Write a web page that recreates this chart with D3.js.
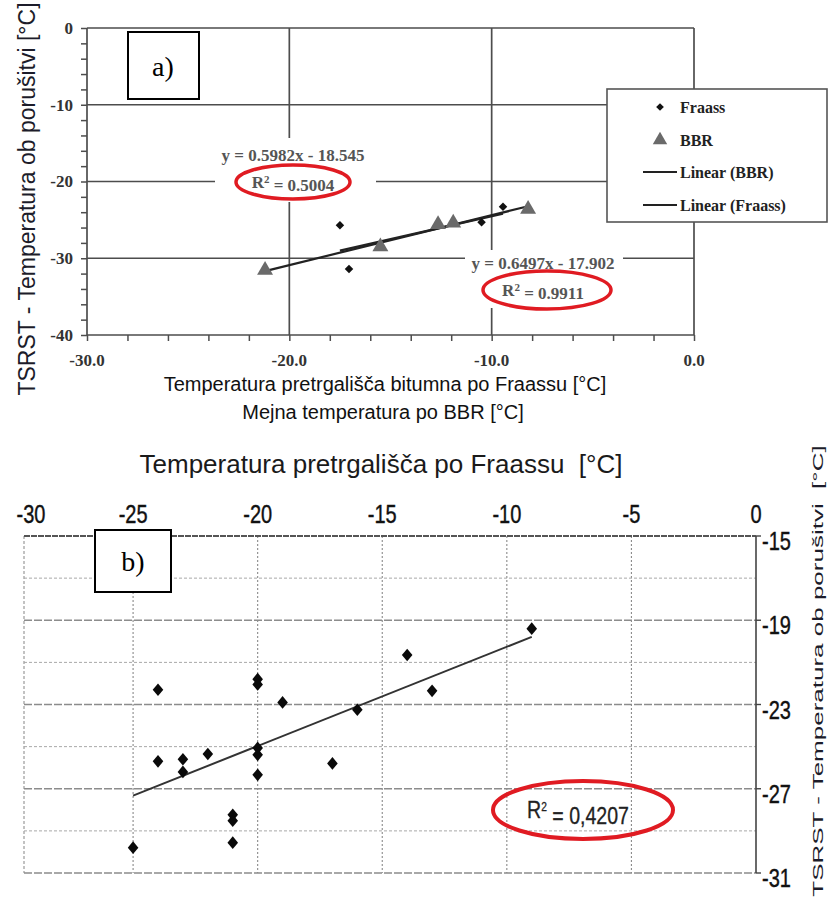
<!DOCTYPE html>
<html>
<head>
<meta charset="utf-8">
<script src="https://cdn.jsdelivr.net/npm/d3@7/dist/d3.min.js"></script>
<style>
  html, body { margin: 0; padding: 0; background: #ffffff; }
  svg { display: block; }
  .pre { white-space: pre; }
</style>
</head>
<body>
<svg id="chart" width="829" height="904"></svg>
<script>
// ---------- Panel a): Fraass / BBR vs TSRST ----------
const fraassA_x = [-17.5, -17.05, -10.5, -9.44];
const fraassA_y = [-25.7, -31.4, -25.3, -23.3];
const bbrA_x = [-21.2, -15.5, -12.65, -11.9, -8.2];
const bbrA_y = [-31.55, -28.5, -25.6, -25.4, -23.6];
// trend lines (slope, intercept) as printed on the chart
const fraassFit = [0.5982, -18.545];
const bbrFit = [0.6497, -17.902];
const xTicksA = [-30, -20, -10, 0];
const yTicksA = [0, -10, -20, -30, -40];
const legendA = ["Fraass", "BBR", "Linear (BBR)", "Linear (Fraass)"];

// ---------- Panel b): Fraass vs TSRST ----------
const fraassB_x = [-25, -24, -24, -23, -23, -22, -21, -21, -21, -20, -20, -20, -20, -20, -19, -17, -16, -14, -13, -9];
const fraassB_y = [-29.8, -22.3, -25.7, -25.6, -26.2, -25.35, -28.24, -28.52, -29.56, -21.8, -22.05, -25.06, -25.39, -26.34, -22.9, -25.8, -23.25, -20.65, -22.35, -19.4];
const trendB = [0.471, -15.55];
const xTicksB = [-30, -25, -20, -15, -10, -5, 0];
const yTicksB = [-15, -19, -23, -27, -31];
const yMinorB = [-17, -21, -25, -29];

const svg = d3.select("#chart");
const serif = "'Liberation Serif', 'Times New Roman', serif";
const sans = "'Liberation Sans', Arial, sans-serif";
const red = "#e01b22";

// diamond = square turned 45°
function diamond(size) {
  return d3.symbol().type(d3.symbolSquare).size(size)();
}

// ===== Panel a =====
const xA = d3.scaleLinear().domain([-30, 0]).range([87, 694]);
const yA = d3.scaleLinear().domain([0, -40]).range([28, 335]);
const gA = svg.append("g");

// grid / frame
gA.selectAll("line.hgrid").data(yTicksA).join("line")
  .attr("x1", xA(-30)).attr("x2", xA(0))
  .attr("y1", d => yA(d)).attr("y2", d => yA(d))
  .attr("stroke", "#4d4d4d").attr("stroke-width", 1.7);
gA.selectAll("line.vgrid").data(xTicksA).join("line")
  .attr("x1", d => xA(d)).attr("x2", d => xA(d))
  .attr("y1", yA(0)).attr("y2", yA(-40))
  .attr("stroke", "#4d4d4d").attr("stroke-width", 1.7);

// minor ticks
const yAxisA = d3.axisLeft(yA).tickValues(d3.range(0, -41, -2)).tickSize(6).tickFormat("");
gA.append("g").attr("transform", `translate(${xA(-30)},0)`).call(yAxisA)
  .call(g => g.select(".domain").remove())
  .call(g => g.selectAll("line").attr("stroke", "#4d4d4d").attr("stroke-width", 1.5));
const xAxisA = d3.axisBottom(xA).tickValues(d3.range(-30, 1, 2)).tickSize(6).tickFormat("");
gA.append("g").attr("transform", `translate(0,${yA(-40)})`).call(xAxisA)
  .call(g => g.select(".domain").remove())
  .call(g => g.selectAll("line").attr("stroke", "#4d4d4d").attr("stroke-width", 1.5));

// tick labels
gA.selectAll("text.ylab").data(yTicksA).join("text")
  .attr("x", 73).attr("y", d => yA(d)).attr("dy", "0.35em")
  .attr("text-anchor", "end")
  .attr("font-family", serif).attr("font-weight", "bold").attr("font-size", 17)
  .attr("fill", "#333").text(d => d);
gA.selectAll("text.xlab").data(xTicksA).join("text")
  .attr("x", d => xA(d)).attr("y", 366)
  .attr("text-anchor", "middle")
  .attr("font-family", serif).attr("font-weight", "bold").attr("font-size", 17)
  .attr("fill", "#333").text(d => d.toFixed(1));

// equation label backgrounds
gA.append("rect").attr("x", 215).attr("y", 138).attr("width", 161).attr("height", 64).attr("fill", "#fff");
gA.append("rect").attr("x", 465).attr("y", 250).attr("width", 158).attr("height", 58).attr("fill", "#fff");

// trend lines
const lineA = d3.line().x(d => xA(d[0])).y(d => yA(d[1]));
const bbrExt = d3.extent(bbrA_x);
const frExt = d3.extent(fraassA_x);
gA.append("path")
  .attr("d", lineA(bbrExt.map(x => [x, bbrFit[0] * x + bbrFit[1]])))
  .attr("stroke", "#222").attr("stroke-width", 2.2).attr("fill", "none");
gA.append("path")
  .attr("d", lineA(frExt.map(x => [x, fraassFit[0] * x + fraassFit[1]])))
  .attr("stroke", "#222").attr("stroke-width", 2.2).attr("fill", "none");

// markers
const triA = d3.symbol().type(d3.symbolTriangle).size(110);
gA.selectAll("path.fr").data(fraassA_x.map((x, i) => [x, fraassA_y[i]])).join("path")
  .attr("d", diamond(36)).attr("transform", d => `translate(${xA(d[0])},${yA(d[1])}) rotate(45)`)
  .attr("fill", "#111");
gA.selectAll("path.bbr").data(bbrA_x.map((x, i) => [x, bbrA_y[i]])).join("path")
  .attr("d", triA).attr("transform", d => `translate(${xA(d[0])},${yA(d[1])})`)
  .attr("fill", "#6a6a6a");

// equations
function equation(g, cx, cy, eq, r2) {
  g.append("text").attr("x", cx).attr("y", cy).attr("dy", "0.35em")
    .attr("text-anchor", "middle").attr("font-family", serif).attr("font-weight", "bold")
    .attr("font-size", 17).attr("fill", "#555").text(eq);
  const t = g.append("text").attr("x", cx).attr("y", cy + 27).attr("dy", "0.35em")
    .attr("text-anchor", "middle").attr("font-family", serif).attr("font-weight", "bold")
    .attr("font-size", 17).attr("fill", "#555");
  t.append("tspan").text("R");
  t.append("tspan").attr("dy", "-0.45em").attr("font-size", 11).text("2");
  t.append("tspan").attr("dy", "0.45em").text(" = " + r2);
}
equation(gA, 293, 155, "y = 0.5982x - 18.545", "0.5004");
equation(gA, 543, 263, "y = 0.6497x - 17.902", "0.9911");
gA.append("ellipse").attr("cx", 293).attr("cy", 182).attr("rx", 57).attr("ry", 17)
  .attr("fill", "none").attr("stroke", red).attr("stroke-width", 3.5);
gA.append("ellipse").attr("cx", 547).attr("cy", 290).attr("rx", 64).attr("ry", 19)
  .attr("fill", "none").attr("stroke", red).attr("stroke-width", 3.5);

// legend
const lg = gA.append("g");
lg.append("rect").attr("x", 607).attr("y", 89).attr("width", 220).attr("height", 133)
  .attr("fill", "#fff").attr("stroke", "#555").attr("stroke-width", 1.6);
const legY = [107, 140, 172, 205];
legendA.forEach((name, i) => {
  const y = legY[i];
  if (i === 0) lg.append("path").attr("d", diamond(30)).attr("transform", `translate(660,${y}) rotate(45)`).attr("fill", "#111");
  else if (i === 1) lg.append("path").attr("d", d3.symbol().type(d3.symbolTriangle).size(90)).attr("transform", `translate(660,${y})`).attr("fill", "#6a6a6a");
  else lg.append("line").attr("x1", 643).attr("x2", 677).attr("y1", y).attr("y2", y).attr("stroke", "#222").attr("stroke-width", 1.8);
  lg.append("text").attr("x", 680).attr("y", y).attr("dy", "0.35em")
    .attr("font-family", serif).attr("font-weight", "bold").attr("font-size", 16)
    .attr("fill", "#222").text(name);
});

// "a)" tag
gA.append("rect").attr("x", 128).attr("y", 32).attr("width", 71).attr("height", 67)
  .attr("fill", "#fff").attr("stroke", "#000").attr("stroke-width", 2);
gA.append("text").attr("x", 163).attr("y", 66).attr("dy", "0.35em").attr("text-anchor", "middle")
  .attr("font-family", serif).attr("font-size", 28).attr("fill", "#000").text("a)");

// axis titles
gA.append("text").attr("transform", "translate(35,199) rotate(-90)")
  .attr("text-anchor", "middle").attr("font-family", sans).attr("font-size", 23)
  .attr("fill", "#1c1c2a").text("TSRST - Temperatura ob porušitvi [°C]");
gA.append("text").attr("x", 385).attr("y", 391).attr("text-anchor", "middle")
  .attr("font-family", sans).attr("font-size", 20).attr("fill", "#111")
  .text("Temperatura pretrgališča bitumna po Fraassu [°C]");
gA.append("text").attr("x", 383).attr("y", 419).attr("text-anchor", "middle")
  .attr("font-family", sans).attr("font-size", 20).attr("fill", "#111")
  .text("Mejna temperatura po BBR [°C]");

// ===== Panel b =====
const xB = d3.scaleLinear().domain([-30, 0]).range([8.5, 756]);
const yB = d3.scaleLinear().domain([-15, -31]).range([536, 873]);
const frameLeft = 24;
const gB = svg.append("g");

// vertical grid (dotted)
gB.selectAll("line.v").data(xTicksB.filter(d => xB(d) > frameLeft && d < 0)).join("line")
  .attr("x1", d => xB(d)).attr("x2", d => xB(d)).attr("y1", yB(-15)).attr("y2", yB(-31))
  .attr("stroke", "#8a8a8a").attr("stroke-width", 1.1).attr("stroke-dasharray", "2,2");
gB.append("line").attr("x1", frameLeft).attr("x2", frameLeft).attr("y1", yB(-15)).attr("y2", yB(-31))
  .attr("stroke", "#9a9a9a").attr("stroke-width", 1.2).attr("stroke-dasharray", "3,2");
// minor horizontal grid
gB.selectAll("line.hm").data(yMinorB).join("line")
  .attr("x1", frameLeft).attr("x2", xB(0)).attr("y1", d => yB(d)).attr("y2", d => yB(d))
  .attr("stroke", "#a8a8a8").attr("stroke-width", 1).attr("stroke-dasharray", "3,2");
// major horizontal grid
gB.selectAll("line.h").data(yTicksB).join("line")
  .attr("x1", frameLeft).attr("x2", xB(0)).attr("y1", d => yB(d)).attr("y2", d => yB(d))
  .attr("stroke", d => d === -15 ? "#555" : "#8c8c8c")
  .attr("stroke-width", d => d === -15 ? 2 : 1.5)
  .attr("stroke-dasharray", d => d === -15 ? "6,1" : "8,2");
// right frame
gB.append("line").attr("x1", xB(0)).attr("x2", xB(0)).attr("y1", yB(-15)).attr("y2", yB(-31))
  .attr("stroke", "#444").attr("stroke-width", 1.6);
gB.selectAll("line.rt").data(yTicksB).join("line")
  .attr("x1", xB(0)).attr("x2", xB(0) + 5).attr("y1", d => yB(d)).attr("y2", d => yB(d))
  .attr("stroke", "#444").attr("stroke-width", 1.4);

// tick labels (condensed)
gB.selectAll("text.xb").data(xTicksB).join("text")
  .attr("transform", d => `translate(${Math.max(xB(d), frameLeft + 7)},523) scale(0.8,1)`)
  .attr("text-anchor", "middle").attr("font-family", sans).attr("font-size", 25)
  .attr("fill", "#111").attr("stroke", "#111").attr("stroke-width", 0.4)
  .text(d => d === 0 ? "0" : "-" + Math.abs(d));
gB.selectAll("text.yb").data(yTicksB).join("text")
  .attr("transform", d => `translate(${xB(0) + 6},${yB(d) + 14}) scale(0.8,1)`)
  .attr("font-family", sans).attr("font-size", 25)
  .attr("fill", "#111").attr("stroke", "#111").attr("stroke-width", 0.4)
  .text(d => "-" + Math.abs(d));

// trend line
const trendXs = d3.extent(fraassB_x);
gB.append("path")
  .attr("d", d3.line().x(d => xB(d[0])).y(d => yB(d[1]))(trendXs.map(x => [x, trendB[0] * x + trendB[1]])))
  .attr("stroke", "#333").attr("stroke-width", 2).attr("fill", "none");

// points
gB.selectAll("path.pt").data(fraassB_x.map((x, i) => [x, fraassB_y[i]])).join("path")
  .attr("d", diamond(56))
  .attr("transform", d => `translate(${xB(d[0])},${yB(d[1])}) scale(1,1.2) rotate(45)`)
  .attr("fill", "#0a0a0a");

// R² label
const rb = gB.append("text").attr("transform", "translate(578,818) scale(0.85,1)")
  .attr("text-anchor", "middle").attr("font-family", sans).attr("font-size", 23).attr("fill", "#222")
  .attr("stroke", "#222").attr("stroke-width", 0.3);
rb.append("tspan").text("R");
rb.append("tspan").attr("dy", "-0.55em").attr("font-size", 12).text("2");
rb.append("tspan").attr("dy", "0.55em").text(" = 0,4207");
gB.append("ellipse").attr("cx", 583).attr("cy", 810).attr("rx", 90).attr("ry", 29)
  .attr("fill", "none").attr("stroke", red).attr("stroke-width", 4);

// "b)" tag
gB.append("rect").attr("x", 95).attr("y", 530).attr("width", 76).attr("height", 62)
  .attr("fill", "#fff").attr("stroke", "#000").attr("stroke-width", 2);
gB.append("text").attr("x", 133).attr("y", 561).attr("dy", "0.35em").attr("text-anchor", "middle")
  .attr("font-family", serif).attr("font-size", 28).attr("fill", "#000").text("b)");

// titles
gB.append("text").attr("class", "pre").attr("x", 381).attr("y", 473).attr("text-anchor", "middle")
  .attr("font-family", sans).attr("font-size", 26).attr("fill", "#1a1a1a")
  .text("Temperatura pretrgališča po Fraassu  [°C]");
gB.append("text").attr("class", "pre").attr("transform", "translate(823,671) scale(0.56,1) rotate(-90)")
  .attr("text-anchor", "middle").attr("font-family", sans).attr("font-size", 26)
  .attr("fill", "#1c1c2a")
  .text("TSRST - Temperatura ob porušitvi  [°C]");
</script>
</body>
</html>
